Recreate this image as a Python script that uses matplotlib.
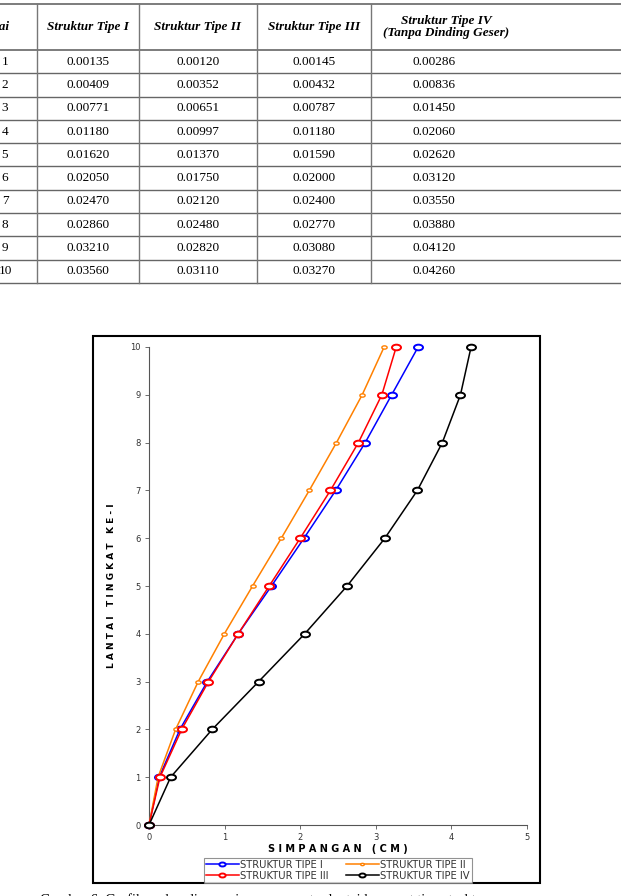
import matplotlib

matplotlib.use("Agg")
import matplotlib.pyplot as plt
import numpy as np
from matplotlib.path import Path
from matplotlib.transforms import Affine2D
from matplotlib.patches import Rectangle

# storey drift per floor (m)
floors = [1, 2, 3, 4, 5, 6, 7, 8, 9, 10]
tipe_1 = [0.00135, 0.00409, 0.00771, 0.01180, 0.01620, 0.02050, 0.02470, 0.02860, 0.03210, 0.03560]
tipe_2 = [0.00120, 0.00352, 0.00651, 0.00997, 0.01370, 0.01750, 0.02120, 0.02480, 0.02820, 0.03110]
tipe_3 = [0.00145, 0.00432, 0.00787, 0.01180, 0.01590, 0.02000, 0.02400, 0.02770, 0.03080, 0.03270]
tipe_4 = [0.00286, 0.00836, 0.01450, 0.02060, 0.02620, 0.03120, 0.03550, 0.03880, 0.04120, 0.04260]

col_headers = ["Lantai", "Struktur Tipe I", "Struktur Tipe II", "Struktur Tipe III",
               "Struktur Tipe IV\n(Tanpa Dinding Geser)"]
legend_labels = ["STRUKTUR TIPE I", "STRUKTUR TIPE II", "STRUKTUR TIPE III", "STRUKTUR TIPE IV"]
colors = ["#0000ff", "#ff8000", "#ff0000", "#000000"]

W, H = 621, 896
fig = plt.figure(figsize=(W / 100, H / 100), dpi=100)

# ---- table drawn in pixel coordinates on a full-figure overlay
bg = fig.add_axes([0, 0, 1, 1])
bg.set_xlim(0, W)
bg.set_ylim(H, 0)
bg.axis("off")

serif = "Liberation Serif"
top, head_bot, row_h = 4, 50, 23.3
vlines = [37, 139, 257, 371]
col_x = [5, 88, 198, 314, 434]
head_x = [-9, 88, 198, 314, 446]

bg.plot([0, W], [top, top], color="#666666", lw=1.2)
bg.plot([0, W], [head_bot, head_bot], color="#666666", lw=1.2)
for i in range(len(floors)):
    y = head_bot + (i + 1) * row_h
    bg.plot([0, W], [y, y], color="#666666", lw=1.0)
bot = head_bot + len(floors) * row_h
for x in vlines:
    bg.plot([x, x], [top, bot], color="#777777", lw=1.0)

for x, t in zip(head_x, col_headers):
    bg.text(x, (top + head_bot) / 2, t, ha="center", va="center", family=serif,
            fontsize=9.5, fontweight="bold", style="italic", linespacing=1.05)

for i, fl in enumerate(floors):
    yc = head_bot + (i + 0.5) * row_h
    vals = [str(fl)] + [f"{v[i]:.5f}" for v in (tipe_1, tipe_2, tipe_3, tipe_4)]
    for x, t in zip(col_x, vals):
        bg.text(x, yc, t, ha="center", va="center", family=serif, fontsize=9.5)

# frame around the chart
bg.add_patch(Rectangle((93, 336), 540 - 93, 883 - 336, fill=False, ec="black", lw=1.5))

# caption (cut off by the page edge)
bg.text(40, 893, "Gambar 6. Grafik perbandingan simpangan antar lantai keempat tipe struktur",
        ha="left", va="top", family=serif, fontsize=10.5)

# ---- chart
ax = fig.add_axes([149 / W, 1 - 825 / H, (527 - 149) / W, (825 - 347) / H])
ellipse = Path.unit_circle().transformed(Affine2D().scale(1.6, 1.0))

series = [tipe_1, tipe_2, tipe_3, tipe_4]
sizes = [6.5, 3.8, 6.5, 6.5]
lines = []
for vals, c, ms, lab in zip(series, colors, sizes, legend_labels):
    x = np.concatenate([[0.0], np.array(vals) * 100])
    y = [0] + floors
    ln, = ax.plot(x, y, color=c, lw=1.1, marker=ellipse, ms=ms, mfc="white",
                  mec=c, mew=1.4 if ms > 5 else 1.0, clip_on=False, label=lab, zorder=3)
    lines.append(ln)

sans = "DejaVu Sans"
ax.set_xlim(0, 5)
ax.set_ylim(0, 10)
ax.set_xticks(range(0, 6))
ax.set_yticks(range(0, 11))
for s in ["top", "right"]:
    ax.spines[s].set_visible(False)
for s in ["left", "bottom"]:
    ax.spines[s].set_color("#555555")
    ax.spines[s].set_linewidth(0.8)
ax.tick_params(length=3, width=0.6, color="#555555", labelsize=6, labelcolor="#333333", pad=3)
for lab in ax.get_xticklabels() + ax.get_yticklabels():
    lab.set_family(sans)

ax.set_xlabel("S I M P A N G A N   ( C M )", family=sans, fontsize=7,
              fontweight="bold", labelpad=1.5)
ax.set_ylabel("L A N T A I   T I N G K A T   K E - I", family=sans, fontsize=6.5,
              fontweight="bold", labelpad=10)

order = [0, 2, 1, 3]
leg = ax.legend([lines[i] for i in order], [legend_labels[i] for i in order],
                ncol=2, loc="upper center", bbox_to_anchor=(0.5, -0.068), frameon=True,
                fancybox=False, edgecolor="#777777", prop={"family": sans, "size": 7.2},
                handlelength=3.3, handletextpad=0.15, columnspacing=1.7, labelspacing=0.12,
                borderpad=0.2, borderaxespad=0, markerscale=0.7)
leg.get_frame().set_linewidth(0.8)
for t in leg.get_texts():
    t.set_color("#333333")

fig.savefig("out.png", dpi=100)
